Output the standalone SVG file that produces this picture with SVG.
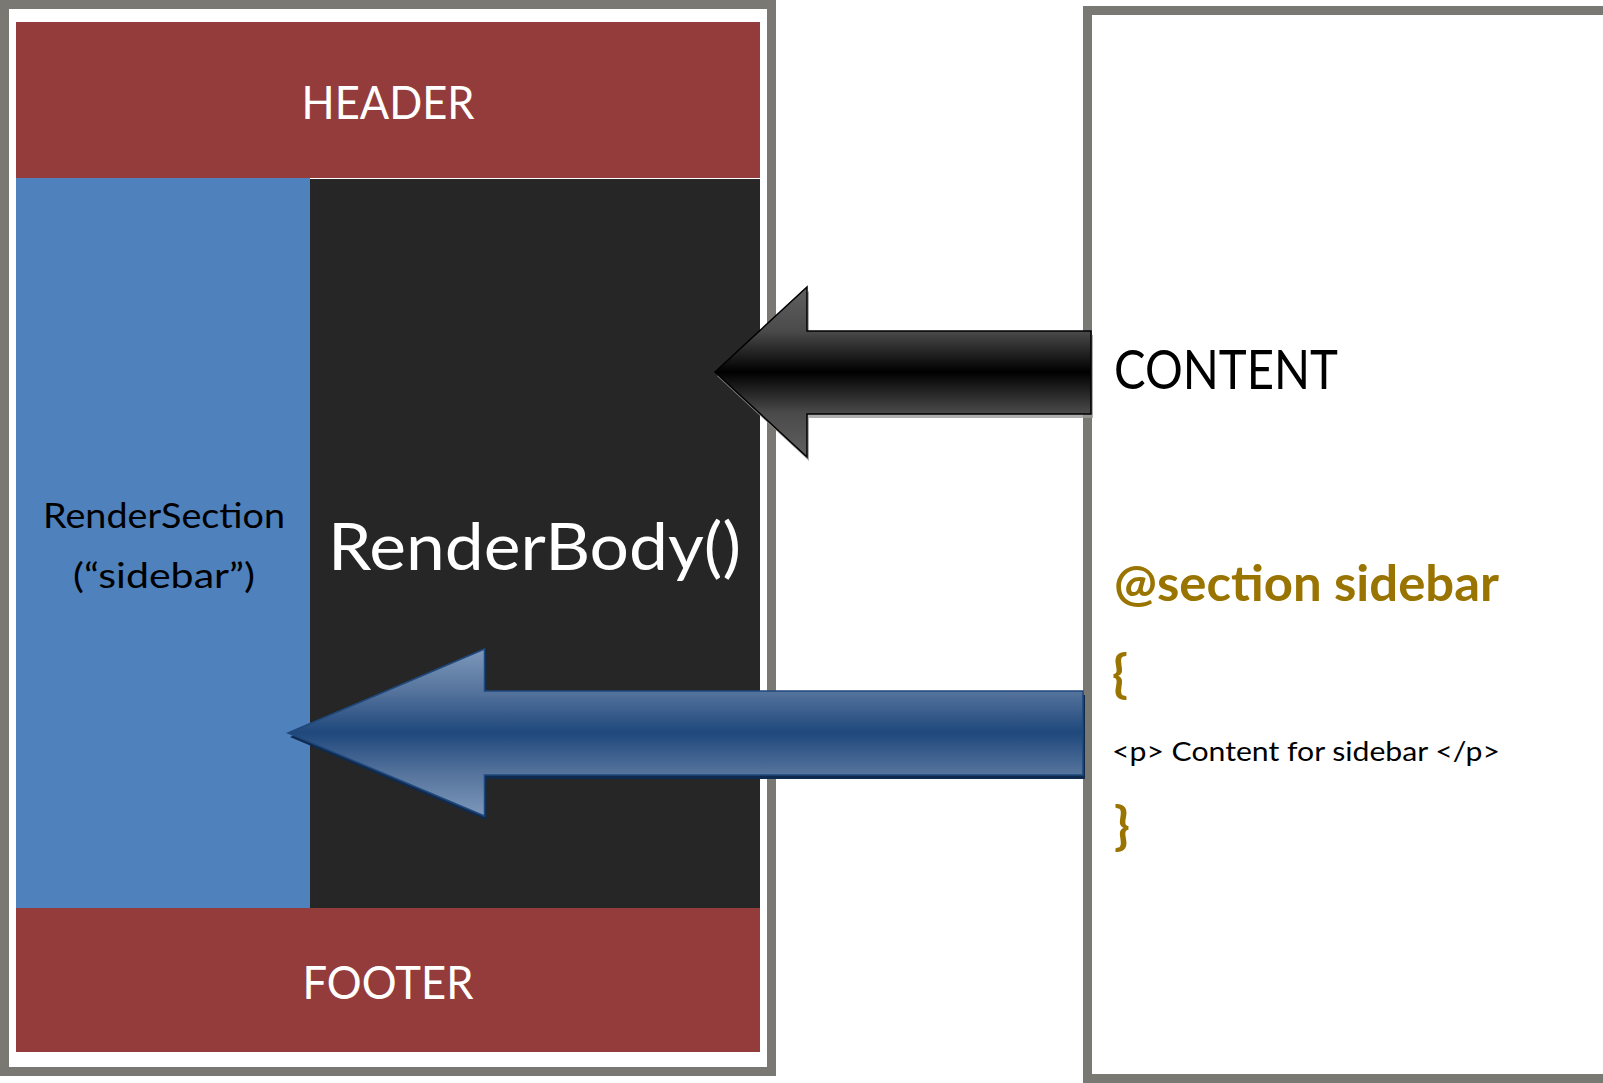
<svg xmlns="http://www.w3.org/2000/svg" width="1603" height="1083" viewBox="0 0 1603 1083">
  <style>
    .frame { fill: #ffffff; stroke: #797873; stroke-width: 9; }
    .band { fill: #943b3b; }
    .lbl { font-family: Lato, "Open Sans", "Liberation Sans", sans-serif; }
    .white { fill: #ffffff; }
    .black { fill: #000000; }
    .gold { fill: #9a7400; font-weight: bold; }
  </style>
  <defs>
    <linearGradient id="gBlack" x1="0" y1="0" x2="0" y2="1">
      <stop offset="0" stop-color="#606060"/>
      <stop offset="0.26" stop-color="#4a4a4a"/>
      <stop offset="0.5" stop-color="#000000"/>
      <stop offset="0.74" stop-color="#4a4a4a"/>
      <stop offset="1" stop-color="#606060"/>
    </linearGradient>
    <linearGradient id="gBlue" x1="0" y1="0" x2="0" y2="1">
      <stop offset="0" stop-color="#7d98bb"/>
      <stop offset="0.25" stop-color="#56749d"/>
      <stop offset="0.5" stop-color="#1f487c"/>
      <stop offset="0.75" stop-color="#56749d"/>
      <stop offset="1" stop-color="#7d98bb"/>
    </linearGradient>
  </defs>
  <rect x="0" y="0" width="1603" height="1083" fill="#ffffff"/>

  <g id="layout">
    <rect class="frame" x="4.5" y="4.5" width="767" height="1067"/>
  </g>
  <g id="header">
    <rect class="band" x="16" y="22" width="744" height="156"/>
    <text class="lbl white" x="388" y="119" font-size="46" text-anchor="middle" textLength="173" lengthAdjust="spacingAndGlyphs">HEADER</text>
  </g>
  <g id="sidebar">
    <rect x="16" y="178" width="294" height="730" fill="#4f81bd"/>
    <text class="lbl black" x="164" y="528" font-size="34" text-anchor="middle" textLength="242" lengthAdjust="spacingAndGlyphs">RenderSection</text>
    <text class="lbl black" x="164" y="588" font-size="34" text-anchor="middle" textLength="182" lengthAdjust="spacingAndGlyphs">(“sidebar”)</text>
  </g>
  <g id="body">
    <rect x="310" y="179" width="450" height="729" fill="#262626"/>
    <text class="lbl white" x="328" y="570" font-size="66" textLength="413" lengthAdjust="spacingAndGlyphs">RenderBody()</text>
  </g>
  <g id="footer">
    <rect class="band" x="16" y="908" width="744" height="144"/>
    <text class="lbl white" x="388" y="999" font-size="46" text-anchor="middle" textLength="171" lengthAdjust="spacingAndGlyphs">FOOTER</text>
  </g>

  <g id="view">
    <rect class="frame" x="1087.5" y="10.5" width="1511" height="1068"/>
    <text class="lbl black" x="1114" y="389" font-size="54" textLength="224" lengthAdjust="spacingAndGlyphs">CONTENT</text>
    <text class="lbl gold" x="1114" y="601" font-size="49" textLength="385" lengthAdjust="spacingAndGlyphs">@section sidebar</text>
    <text class="lbl gold" x="1112" y="692" font-size="52">{</text>
    <text class="lbl black" x="1112" y="761" font-size="26.5" textLength="388" lengthAdjust="spacingAndGlyphs">&lt;p&gt; Content for sidebar &lt;/p&gt;</text>
    <text class="lbl gold" x="1114" y="844" font-size="52">}</text>
  </g>

  <g id="connectors">
    <path d="M717,376 L809,291 L809,335 L1093,335 L1093,418 L809,418 L809,461 Z" fill="#9a9a9a" opacity="0.8"/>
    <path d="M715,372 L807,287 L807,331 L1091,331 L1091,414 L807,414 L807,457 Z" fill="url(#gBlack)" stroke="#000000" stroke-width="1.5" stroke-linejoin="miter"/>
    <path d="M290,737 L486.5,653 L486.5,695 L1085,695 L1085,779 L486.5,779 L486.5,820 Z" fill="#0f2a4f"/>
    <path d="M288,733 L484.5,649 L484.5,691 L1083,691 L1083,775 L484.5,775 L484.5,816 Z" fill="url(#gBlue)" stroke="#1f487c" stroke-width="1.5"/>
  </g>
</svg>
